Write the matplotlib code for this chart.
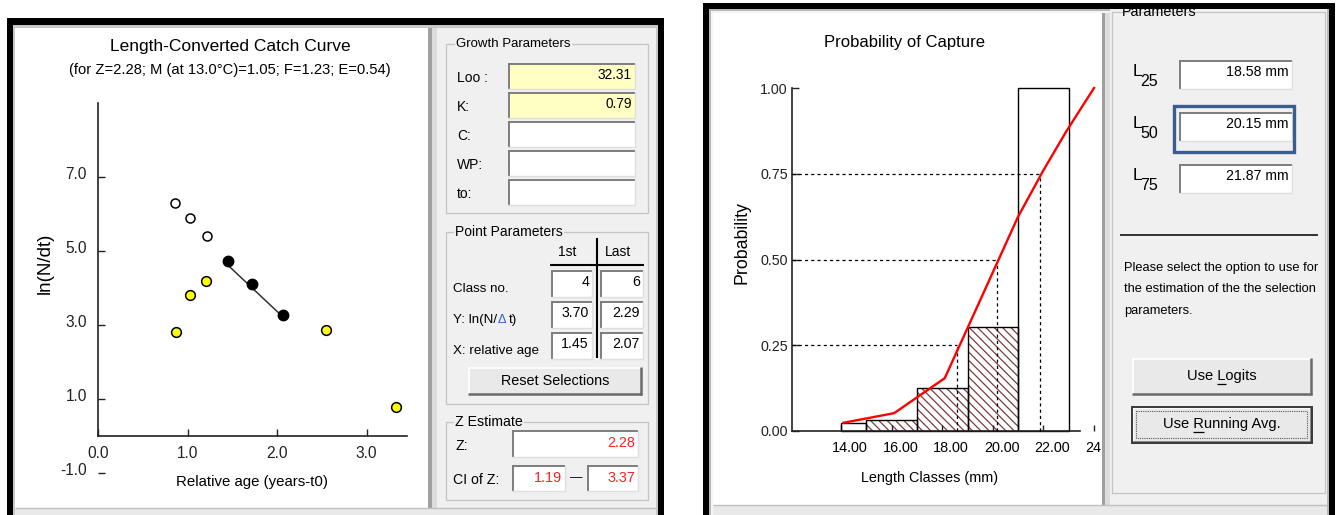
import numpy as np
import matplotlib
matplotlib.use('Agg')
import matplotlib.pyplot as plt
from matplotlib.patches import Rectangle
from matplotlib.transforms import ScaledTranslation

SANS = ['Liberation Sans', 'DejaVu Sans']
plt.rcParams['font.family'] = SANS
plt.rcParams['axes.unicode_minus'] = False
plt.rcParams['hatch.linewidth'] = 0.9

# --- catch curve data
open_age = [0.86, 1.03, 1.22]
open_lnN = [6.30, 5.88, 5.41]
sel_age = [1.45, 1.72, 2.07]
sel_lnN = [4.73, 4.11, 3.27]
excl_age = [0.87, 1.03, 1.21, 2.55, 3.33]
excl_lnN = [2.82, 3.81, 4.19, 2.86, 0.79]
fit_age = [1.45, 2.07]
fit_lnN = [4.62, 3.21]
cc_xticks = [0.0, 1.0, 2.0, 3.0]
cc_yticks = [-1.0, 1.0, 3.0, 5.0, 7.0]

# --- probability of capture data
class_lo = [14, 15, 17, 19, 21]
class_hi = [15, 17, 19, 21, 23]
class_prob = [0.023, 0.032, 0.125, 0.303, 1.0]
class_hatched = [False, True, True, True, False]
curve_len = [14.1, 16.1, 18.1, 19.0, 21.0, 22.0, 22.9, 24.0]
curve_prob = [0.024, 0.052, 0.154, 0.30, 0.625, 0.76, 0.873, 1.0]
l_prob = [0.25, 0.50, 0.75]
l_len = [18.58, 20.15, 21.87]
pc_xticks = [14, 16, 18, 20, 22, 24]
pc_yticks = [0.0, 0.25, 0.50, 0.75, 1.0]

# --- panel texts
growth_labels = ['Loo :', 'K:', 'C:', 'WP:', 'to:']
growth_values = ['32.31', '0.79', '', '', '']
growth_yellow = [True, True, False, False, False]
point_labels = ['Class no.', None, 'X: relative age']
point_first = ['4', '3.70', '1.45']
point_last = ['6', '2.29', '2.07']
z_value = '2.28'
ci_low, ci_high = '1.19', '3.37'
sel_subs = ['25', '50', '75']
sel_values = ['18.58 mm', '20.15 mm', '21.87 mm']

W, H = 1340, 515
fig = plt.figure(figsize=(W / 100, H / 100), dpi=100)
bg = fig.add_axes([0, 0, 1, 1])
bg.set_xlim(0, W)
bg.set_ylim(H, 0)
bg.axis('off')
renderer = fig.canvas.get_renderer()

PANEL = '#f0f0f0'
RED = '#ff2020'


def px_axes(x0, y0, x1, y1):
    return fig.add_axes([x0 / W, 1 - y1 / H, (x1 - x0) / W, (y1 - y0) / H])


def rect(x0, y0, x1, y1, fc='none', ec='none', lw=0, z=1, **kw):
    bg.add_patch(Rectangle((x0, y0), x1 - x0, y1 - y0, facecolor=fc,
                           edgecolor=ec, linewidth=lw, zorder=z, **kw))


def line(xs, ys, c='k', lw=1.0, z=3, **kw):
    bg.plot(xs, ys, color=c, lw=lw, zorder=z, solid_capstyle='butt', **kw)


def tw(s, size):
    t = bg.text(0, 0, s, fontsize=size)
    w = t.get_window_extent(renderer).width
    t.remove()
    return w


def sunken(x0, y0, x1, y1, fc='white'):
    rect(x0, y0, x1, y1, fc=fc, z=2)
    line([x0, x1], [y0 + 1, y0 + 1], c='#7d7d7d', lw=1.4)
    line([x0 + 1, x0 + 1], [y0, y1], c='#7d7d7d', lw=1.4)
    line([x0, x1], [y1 - 0.5, y1 - 0.5], c='#dedede', lw=1)
    line([x1 - 0.5, x1 - 0.5], [y0, y1], c='#dedede', lw=1)


def button(x0, y0, x1, y1, focused=False):
    rect(x0, y0, x1, y1, fc='#e9e9e9', z=2)
    line([x0, x1], [y0 + 0.5, y0 + 0.5], c='white', lw=1.2)
    line([x0 + 0.5, x0 + 0.5], [y0, y1], c='white', lw=1.2)
    line([x0, x1], [y1 - 1, y1 - 1], c='#6a6a6a', lw=1.8)
    line([x1 - 1, x1 - 1], [y0, y1], c='#6a6a6a', lw=1.8)
    if focused:
        rect(x0, y0, x1, y1, ec='#3a3a3a', lw=1.4, z=4)
        rect(x0 + 4, y0 + 4, x1 - 5, y1 - 5, ec='#555555', lw=0.8, z=4,
             linestyle=(0, (1, 1)))


def group(x0, y0, x1, y1, title, tx, size):
    rect(x0, y0, x1, y1, ec='#c4c4c4', lw=0.9, z=2)
    bg.text(tx, y0, title, va='center', ha='left', fontsize=size, zorder=4,
            bbox=dict(fc=PANEL, ec='none', pad=1))


def mnemonic(cx, cy, pre, ch, post, size):
    full = pre + ch + post
    bg.text(cx, cy, full, ha='center', va='center', fontsize=size, zorder=5)
    x0 = cx - tw(full, size) / 2 + tw(pre + ch, size) - tw(ch, size)
    line([x0, x0 + tw(ch, size)], [cy + 8, cy + 8], lw=0.9, z=5)


# ================= window frames
# left window
rect(13, 25, 658, 520, fc='#c8c8c8')
rect(15, 28, 428, 508, fc='white')
rect(428, 28, 432, 515, fc='#a0a0a0')
rect(432, 28, 437, 515, fc='#dcdcdc')
rect(437, 28, 656, 508, fc=PANEL)
rect(15, 508, 656, 515, fc='#e9e9e9')
line([15, 656], [508, 508], c='#c0c0c0', lw=1)
rect(7, 18, 13, 520, fc='black', z=10)
rect(7, 18, 664, 25, fc='black', z=10)
rect(658, 18, 664, 520, fc='black', z=10)

# right window
rect(709, 9, 1329, 520, fc='#b8b8b8')
rect(711, 11, 1327, 520, fc='#f5f5f5')
rect(713, 13, 1102, 505, fc='white')
rect(1102, 13, 1105, 505, fc='#a0a0a0')
rect(1105, 13, 1110, 505, fc='#dcdcdc')
rect(1110, 9, 1327, 505, fc=PANEL)
rect(713, 505, 1327, 515, fc='#e9e9e9')
line([713, 1327], [505, 505], c='#c0c0c0', lw=1)
rect(703, 3, 709, 520, fc='black', z=10)
rect(703, 3, 1335, 9, fc='black', z=10)
rect(1329, 3, 1335, 520, fc='black', z=10)

# ================= left chart: length-converted catch curve
bg.text(230, 47, 'Length-Converted Catch Curve', ha='center', va='center', fontsize=12.5)
bg.text(230, 70, '(for Z=2.28; M (at 13.0\u00b0C)=1.05; F=1.23; E=0.54)',
        ha='center', va='center', fontsize=10.6)
bg.text(252, 482, 'Relative age (years-t0)', ha='center', va='center', fontsize=10.8)
bg.text(45, 263, 'ln(N/dt)', ha='center', va='center', rotation=90, fontsize=13.5)

cc = px_axes(98, 95, 428, 480)
cc.patch.set_alpha(0)
cc.set_xlim(0, 330 / 89.5)
cc.set_ylim((436 - 480) / 37, (436 - 95) / 37)
cc.plot(open_age, open_lnN, 'o', ms=6.5, mfc='white', mec='black', mew=1.1)
cc.plot(excl_age, excl_lnN, 'o', ms=7, mfc='#ffff00', mec='black', mew=1.1)
cc.plot(fit_age, fit_lnN, color='#333333', lw=1.1)
cc.plot(sel_age, sel_lnN, 'o', ms=7.5, mfc='black', mec='black')
for s in ['top', 'right']:
    cc.spines[s].set_visible(False)
cc.spines['bottom'].set_position(('data', 0))
cc.spines['bottom'].set_bounds(0, 3.45)
cc.spines['left'].set_bounds(0, 9.0)
for s in ['bottom', 'left']:
    cc.spines[s].set_linewidth(1.2)
    cc.spines[s].set_color('#222222')
cc.set_xticks(cc_xticks, [f'{v:.1f}' for v in cc_xticks])
cc.set_yticks(cc_yticks, [f'{v:.1f}' for v in cc_yticks])
cc.tick_params(direction='in', length=5, width=1, labelsize=11.2, colors='#222222')
cc.tick_params(axis='x', pad=7)
cc.tick_params(axis='y', pad=8)
for lab in cc.get_yticklabels():
    lab.set_transform(lab.get_transform() + ScaledTranslation(0, 4 / 100, fig.dpi_scale_trans))

# ================= left panel
group(446, 44, 648, 213, 'Growth Parameters', 456, 9.5)
for i, (lab, val, yel) in enumerate(zip(growth_labels, growth_values, growth_yellow)):
    top = 63 + i * 29
    sunken(508, top, 635, top + 26, fc='#ffffc4' if yel else 'white')
    bg.text(457, top + 15, lab, va='center', fontsize=10)
    bg.text(632, top + 12, val, va='center', ha='right', fontsize=9.8, zorder=5)

group(446, 232, 648, 404, 'Point Parameters', 455, 10)
bg.text(567, 252, '1st', ha='center', va='center', fontsize=10)
bg.text(618, 252, 'Last', ha='center', va='center', fontsize=10)
line([597, 597], [238, 358], lw=1.5)
line([550, 644], [265, 265], lw=1.5)
for i, (lab, v1, v2) in enumerate(zip(point_labels, point_first, point_last)):
    top = 270 + i * 31
    sunken(551, top, 592, top + 27)
    sunken(600, top, 643, top + 27)
    bg.text(589, top + 12, v1, ha='right', va='center', fontsize=10.2, zorder=5)
    bg.text(640, top + 12, v2, ha='right', va='center', fontsize=10.2, zorder=5)
    cy = top + 19
    if lab is not None:
        bg.text(453, cy, lab, va='center', fontsize=9.6)
    else:
        x = 453
        bg.text(x, cy, 'Y: ln(N/', va='center', fontsize=9.6)
        x += tw('Y: ln(N/', 9.6) + 1
        bg.text(x, cy, '\u0394', va='center', fontsize=9.2, color='#2a64c8')
        x += tw('\u0394', 9.2) + 2
        bg.text(x, cy, 't)', va='center', fontsize=9.6)
button(468, 367, 642, 395)
bg.text(555, 381, 'Reset Selections', ha='center', va='center', fontsize=10.4, zorder=5)

group(446, 422, 648, 500, 'Z Estimate', 455, 10.2)
bg.text(456, 446, 'Z:', va='center', fontsize=10.2)
sunken(512, 430, 638, 457)
bg.text(635, 443, z_value, ha='right', va='center', fontsize=10.4, color=RED, zorder=5)
bg.text(453, 480, 'CI of Z:', va='center', fontsize=10.2)
sunken(512, 465, 565, 491)
sunken(587, 465, 638, 491)
bg.text(562, 478, ci_low, ha='right', va='center', fontsize=10.4, color=RED, zorder=5)
bg.text(635, 478, ci_high, ha='right', va='center', fontsize=10.4, color=RED, zorder=5)
bg.text(576, 478, '\u2014', ha='center', va='center', fontsize=9)

# ================= right chart: probability of capture
bg.text(904, 42, 'Probability of Capture', ha='center', va='center', fontsize=12)
bg.text(930, 478, 'Length Classes (mm)', ha='center', va='center', fontsize=10.4)
bg.text(742, 243, 'Probability', ha='center', va='center', rotation=90, fontsize=12.8)

pc = px_axes(792, 60, 1102, 490)
pc.patch.set_alpha(0)
xmin = 14 - 49 / 25.3
pc.set_xlim(xmin, 14 + 261 / 25.3)
pc.set_ylim(-(490 - 431) / 343, (431 - 60) / 343)
widths = np.subtract(class_hi, class_lo)
for lo, w, p, hat in zip(class_lo, widths, class_prob, class_hatched):
    if hat:
        pc.bar(lo, p, width=w, align='edge', color='white', edgecolor='#7a3d3d',
               hatch='\\' * 4, linewidth=0, zorder=1)
pc.bar(class_lo, class_prob, width=widths, align='edge', fill=False,
       edgecolor='black', linewidth=1.0, zorder=2)
for p, L in zip(l_prob, l_len):
    pc.plot([xmin, L], [p, p], color='black', lw=0.9, dashes=(2.5, 2.5), zorder=3)
    pc.plot([L, L], [0, p], color='black', lw=0.9, dashes=(2.5, 2.5), zorder=3)
pc.plot(curve_len, curve_prob, color='#ff0000', lw=1.7, zorder=4)
for s in ['top', 'right']:
    pc.spines[s].set_visible(False)
pc.spines['bottom'].set_position(('data', 0))
pc.spines['bottom'].set_bounds(xmin, 23.45)
pc.spines['left'].set_bounds(0, 1.0)
for s in ['bottom', 'left']:
    pc.spines[s].set_linewidth(1.2)
    pc.spines[s].set_color('#222222')
pc.set_yticks(pc_yticks, [f'{v:.2f}' for v in pc_yticks])
pc.set_xticks(pc_xticks)
pc.tick_params(direction='in', length=5, width=1, labelsize=10.3, colors='#222222')
pc.tick_params(axis='y', pad=3)
pc.tick_params(axis='x', length=4.5, labelbottom=False)
off = ScaledTranslation(9 / 100, -17 / 100, fig.dpi_scale_trans)
for v in pc_xticks:
    pc.text(v, 0, f'{v:.2f}', transform=pc.transData + off, ha='center',
            va='center', fontsize=10.4, clip_on=True)

# ================= right panel
rect(1112, 12, 1325, 493, ec='#c4c4c4', lw=0.9, z=2)
bg.text(1122, 12, 'Parameters', va='center', fontsize=10.4, zorder=5)
for i, (sub, val) in enumerate(zip(sel_subs, sel_values)):
    top = 60 + i * 52
    sunken(1179, top, 1292, top + 29)
    bg.text(1133, top + 11, 'L', va='center', fontsize=12.5)
    bg.text(1140, top + 21, sub, va='center', fontsize=11.5)
    bg.text(1289, top + 12, val, ha='right', va='center', fontsize=10.2, zorder=5)
bg.add_patch(Rectangle((1174, 106), 120, 46, facecolor='none', edgecolor='#3b5c8f',
                       linewidth=2.4, zorder=6))
line([1120, 1318], [235, 235], c='#222222', lw=1.3)
bg.text(1124, 268, 'Please select the option to use for', va='center', fontsize=9.3)
bg.text(1124, 289, 'the estimation of the the selection', va='center', fontsize=9.3)
bg.text(1124, 311, 'parameters.', va='center', fontsize=9.3)
button(1132, 358, 1312, 395)
mnemonic(1222, 376, 'Use ', 'L', 'ogits', 10.5)
button(1132, 407, 1312, 443, focused=True)
mnemonic(1222, 424, 'Use ', 'R', 'unning Avg.', 10.5)

fig.savefig('out.png', dpi=100)
